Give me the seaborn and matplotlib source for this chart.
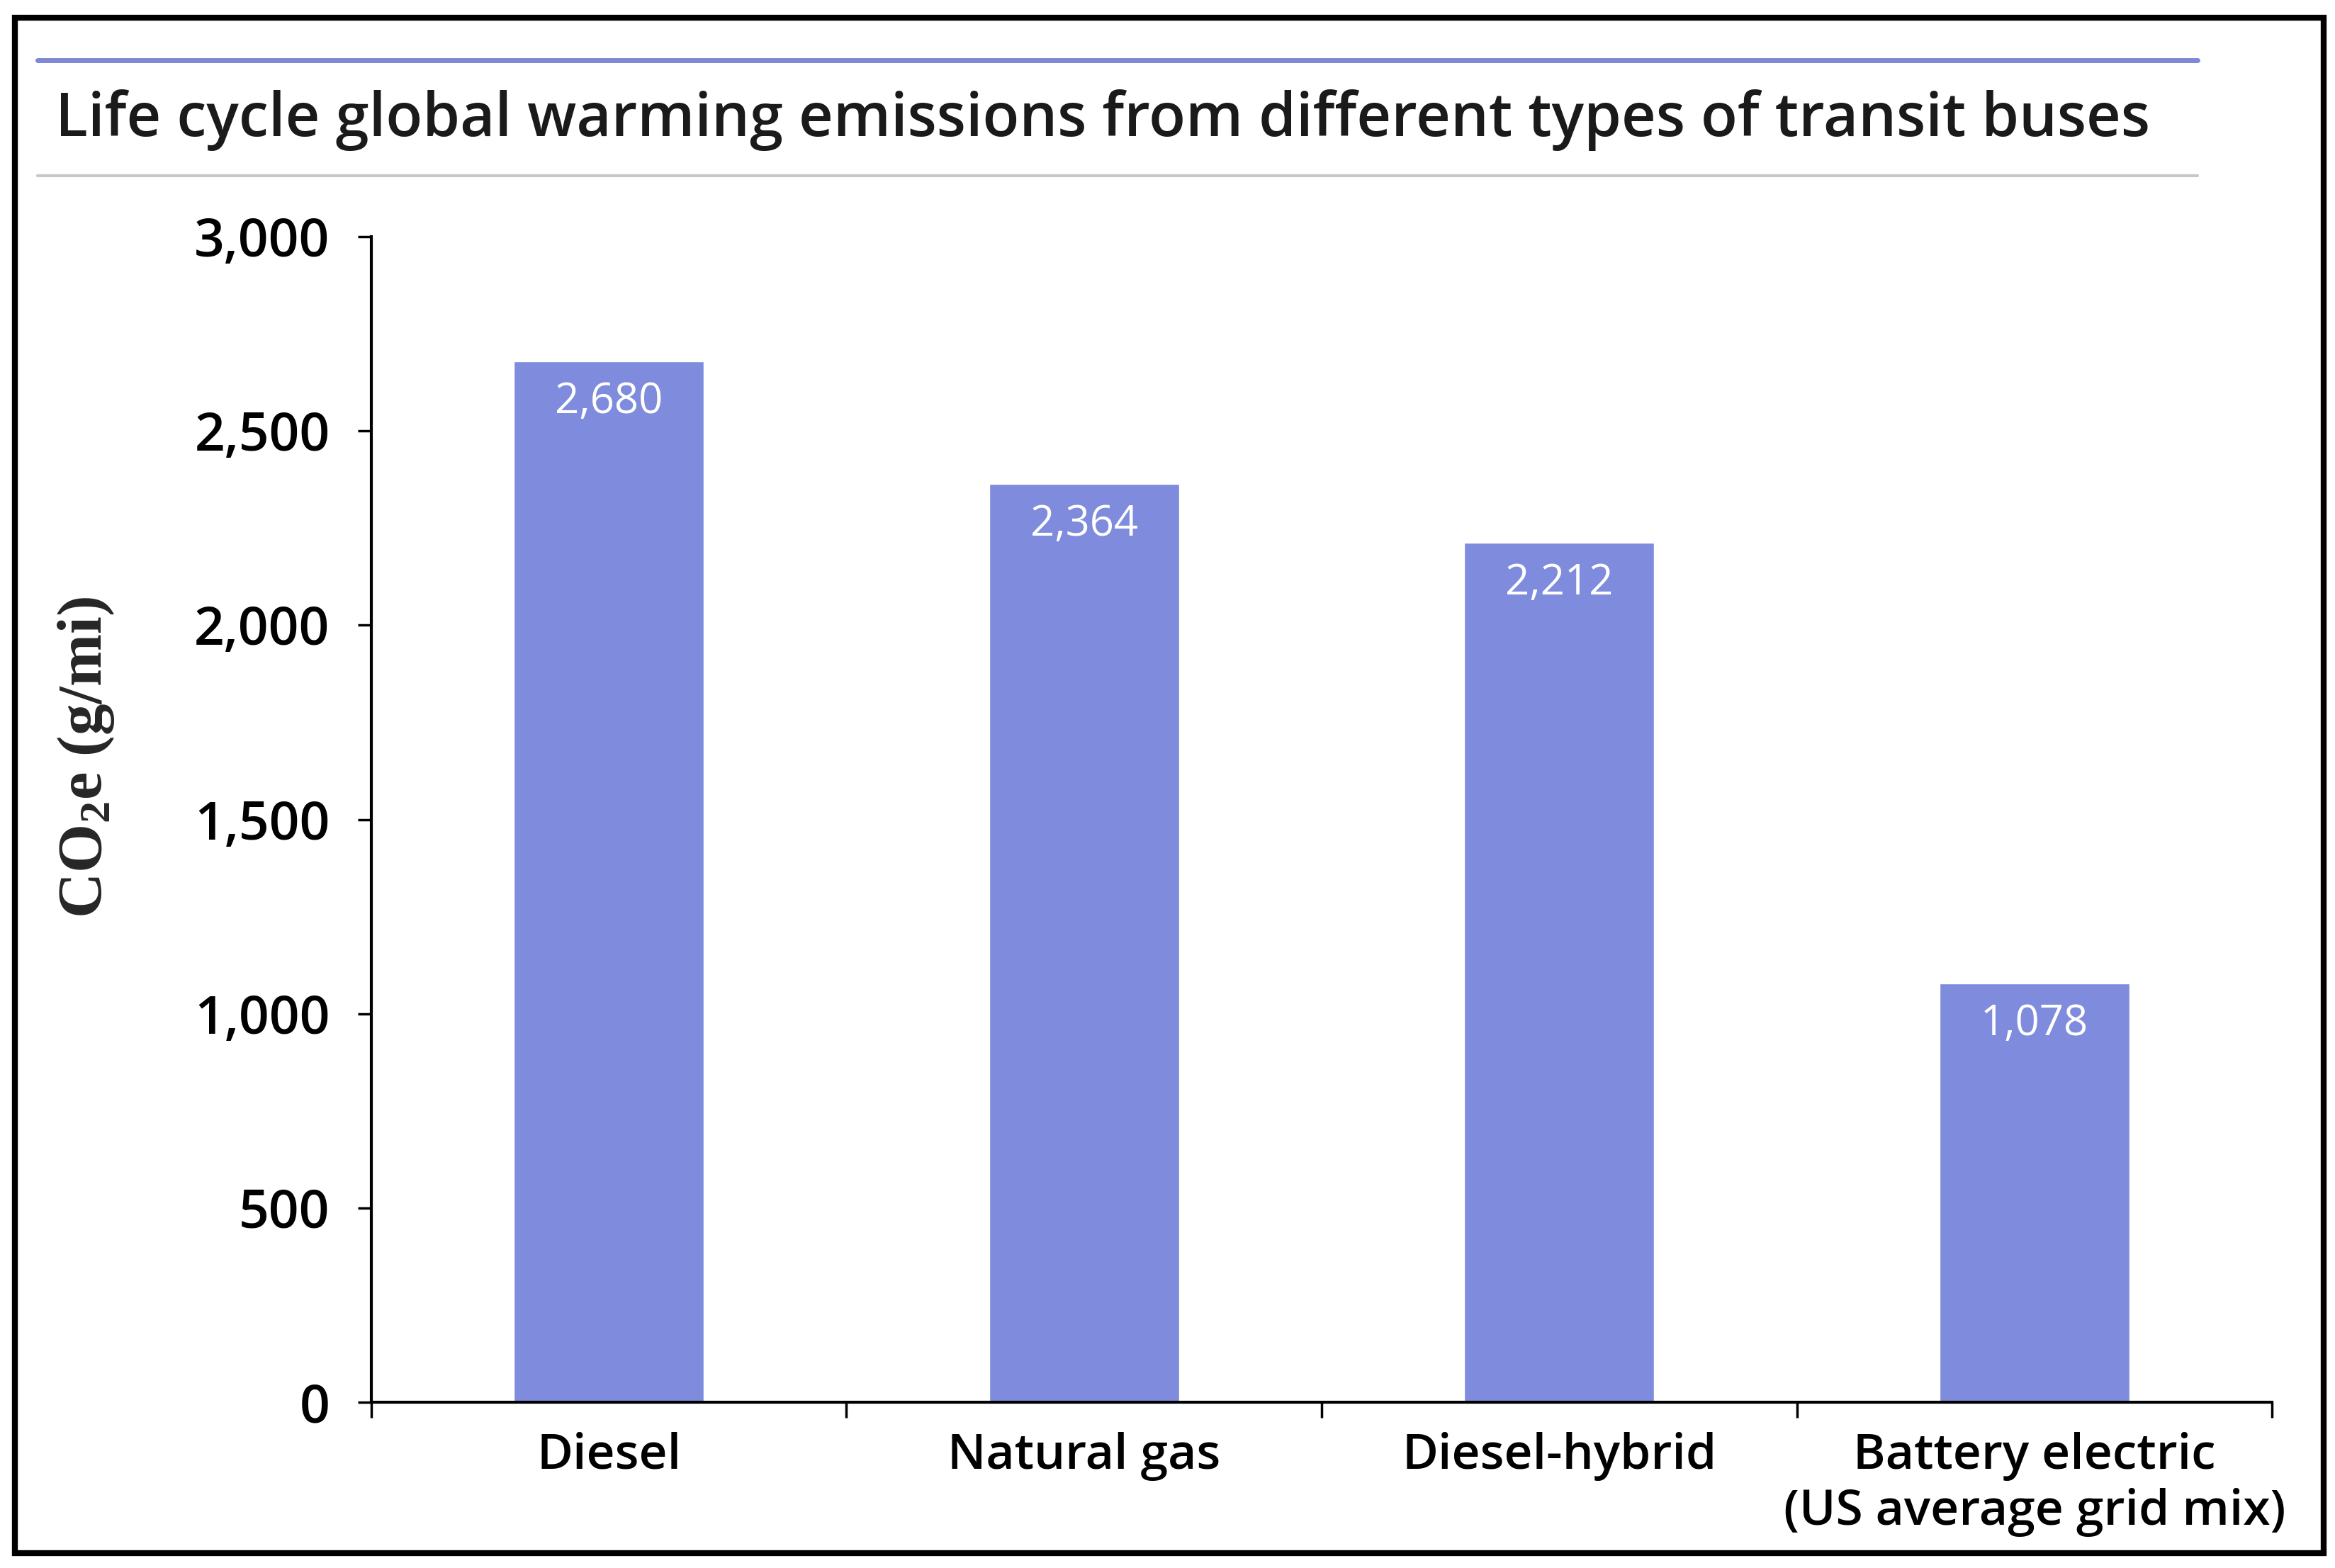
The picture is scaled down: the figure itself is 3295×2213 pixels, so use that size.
import matplotlib
matplotlib.use("Agg")
import matplotlib.pyplot as plt
import seaborn as sns
from matplotlib.patches import Rectangle
from matplotlib.lines import Line2D

# -------------------------
# Data
# -------------------------
bus_types = ["Diesel", "Natural gas", "Diesel-hybrid", "Battery electric\n(US average grid mix)"]
emissions = [2680, 2364, 2212, 1078]
value_labels = ["2,680", "2,364", "2,212", "1,078"]
y_ticks = [0, 500, 1000, 1500, 2000, 2500, 3000]
y_tick_labels = ["0", "500", "1,000", "1,500", "2,000", "2,500", "3,000"]

bar_color = "#7F8BDC"
main_font = ["Open Sans", "DejaVu Sans"]

sns.set_theme(style="white")
plt.rcParams["font.family"] = main_font
plt.rcParams["mathtext.default"] = "regular"

fig = plt.figure(figsize=(32.95, 22.13), dpi=100)
ax = fig.add_axes([0.159, 0.1057, 0.814, 0.7433])

sns.barplot(x=bus_types, y=emissions, color=bar_color, saturation=1, width=0.4, ax=ax)

ax.set_xlim(-0.5, 3.5)
ax.set_ylim(0, 3000)
ax.set_yticks(y_ticks)
ax.set_yticklabels(y_tick_labels, fontsize=54, fontweight="semibold", color="black")
ax.set_xticks(range(len(bus_types)))
ax.set_xticklabels(bus_types, fontsize=50, fontweight="semibold", color="black", linespacing=1.2)
ax.set_xticks([-0.5, 0.5, 1.5, 2.5, 3.5], minor=True)

ax.tick_params(axis="x", which="major", length=0, pad=30)
ax.tick_params(axis="x", which="minor", length=16, width=2.5, direction="out", color="black", bottom=True)
ax.tick_params(axis="y", which="major", length=14, width=2.5, direction="out", color="black", pad=28, left=True)

for side in ["top", "right"]:
    ax.spines[side].set_visible(False)
for side in ["left", "bottom"]:
    ax.spines[side].set_color("black")
    ax.spines[side].set_linewidth(3)

ax.set_xlabel("")
ax.set_ylabel("CO$_2$e (g/mi)", fontsize=64, fontweight="bold", family=["Liberation Serif", "DejaVu Serif"])
ax.yaxis.set_label_coords(-0.134, 0.553)

# value labels inside bars
for i, (v, lab) in enumerate(zip(emissions, value_labels)):
    ax.annotate(lab, xy=(i, v), xytext=(0, -41), textcoords="offset points",
                ha="center", va="center", color="white", fontsize=43)

# title and decorative lines
fig.text(0.0237, 0.9236, "Life cycle global warming emissions from different types of transit buses",
         fontsize=61, fontweight="semibold", color="#1a1a1a", ha="left", va="center")
fig.add_artist(Line2D([0.016, 0.941], [0.9618, 0.9618], color="#7F88D4", linewidth=5))
fig.add_artist(Line2D([0.016, 0.941], [0.888, 0.888], color="#C8C8C8", linewidth=3))

# outer frame
fig.add_artist(Rectangle((0.0064, 0.0095), 0.9886, 0.9792, transform=fig.transFigure,
                         fill=False, edgecolor="black", linewidth=6))

fig.savefig("out.png", dpi=100, facecolor="white")
